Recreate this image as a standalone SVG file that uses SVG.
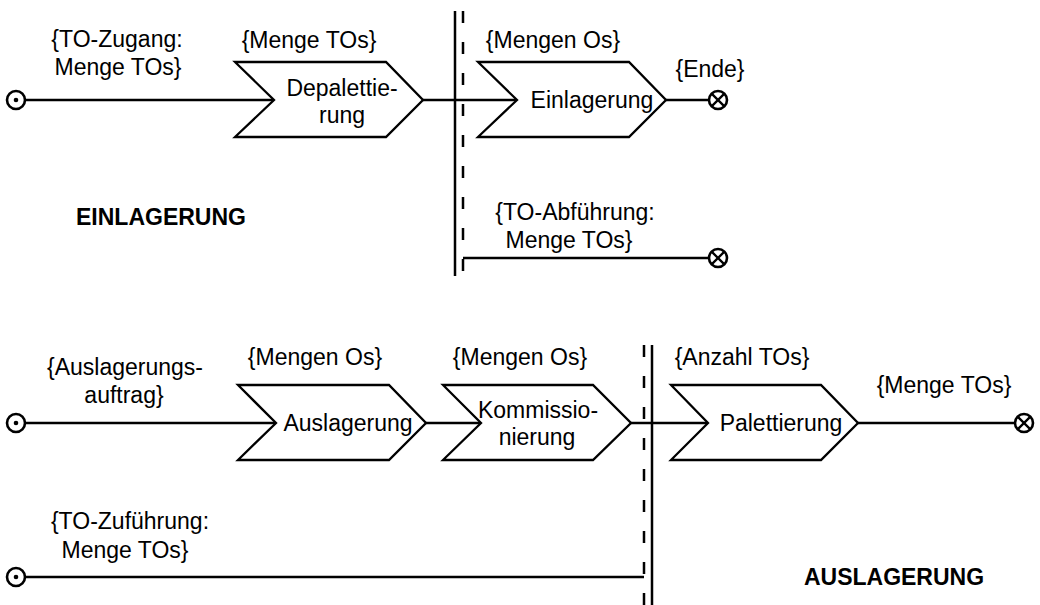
<svg xmlns="http://www.w3.org/2000/svg" width="1040" height="605" viewBox="0 0 1040 605">
  <style>
    .bg { fill: #ffffff; }
    .flow { stroke: #000; stroke-width: 2.3; fill: none; }
    .step { stroke: #000; stroke-width: 2.3; fill: #ffffff; stroke-linejoin: miter; }
    .lane { stroke: #000; stroke-width: 2.5; fill: none; }
    .lane-dash { stroke: #000; stroke-width: 2.5; fill: none; stroke-dasharray: 12 19; }
    .ev { stroke: #000; stroke-width: 2.6; fill: #ffffff; }
    .dot { fill: #000; }
    .txt { font-family: "Liberation Sans", Arial, sans-serif; font-size: 23px; fill: #000; text-anchor: middle; }
    .title { font-family: "Liberation Sans", Arial, sans-serif; font-size: 23px; font-weight: bold; fill: #000; text-anchor: middle; }
  </style>
  <defs>
    <!-- start event: circle with centre dot -->
    <g id="start">
      <circle class="ev" cx="0" cy="0" r="9"/>
      <circle class="dot" cx="0" cy="0" r="2.3"/>
    </g>
    <!-- end event: circle with a cross -->
    <g id="end">
      <circle class="ev" cx="0" cy="0" r="9"/>
      <path class="flow" d="M-6.4,-6.4 L6.4,6.4 M-6.4,6.4 L6.4,-6.4"/>
    </g>
  </defs>
  <rect class="bg" x="0" y="0" width="1040" height="605"/>

  <!-- separators between the areas -->
  <g id="separators">
    <line class="lane" x1="455" y1="11" x2="455" y2="276"/>
    <line class="lane-dash" x1="463" y1="11" x2="463" y2="276"/>
    <line class="lane" x1="652" y1="345" x2="652" y2="605"/>
    <line class="lane-dash" x1="644" y1="345" x2="644" y2="605"/>
  </g>

  <!-- flow lines -->
  <g id="connectors">
    <line class="flow" x1="25" y1="100" x2="274" y2="100"/>
    <line class="flow" x1="423" y1="100" x2="517" y2="100"/>
    <line class="flow" x1="666" y1="100" x2="709" y2="100"/>
    <line class="flow" x1="463" y1="258" x2="709" y2="258"/>
    <line class="flow" x1="25" y1="423" x2="276" y2="423"/>
    <line class="flow" x1="426" y1="423" x2="481" y2="423"/>
    <line class="flow" x1="631" y1="423" x2="708" y2="423"/>
    <line class="flow" x1="858" y1="423" x2="1015" y2="423"/>
    <line class="flow" x1="25" y1="577" x2="644" y2="577"/>
  </g>

  <!-- upper area: storage -->
  <g id="start-zugang">
    <use href="#start" x="16" y="100"/>
    <text class="txt" x="117" y="47">{TO-Zugang:</text>
    <text class="txt" x="118" y="75">Menge TOs}</text>
  </g>
  <g id="depalettierung">
    <polygon class="step" points="235,62 386,62 423,100 386,137 235,137 274,100"/>
    <text class="txt" x="309" y="48">{Menge TOs}</text>
    <text class="txt" x="342" y="96">Depalettie-</text>
    <text class="txt" x="342" y="123">rung</text>
  </g>
  <g id="einlagerung">
    <polygon class="step" points="478,62 629,62 666,100 629,137 478,137 517,100"/>
    <text class="txt" x="553" y="48">{Mengen Os}</text>
    <text class="txt" x="592" y="108">Einlagerung</text>
  </g>
  <g id="end-ende">
    <use href="#end" x="718" y="100"/>
    <text class="txt" x="710" y="77">{Ende}</text>
  </g>
  <g id="end-abfuehrung">
    <use href="#end" x="718" y="258"/>
    <text class="txt" x="575" y="220">{TO-Abführung:</text>
    <text class="txt" x="569" y="248">Menge TOs}</text>
  </g>
  <g id="label-einlagerung">
    <text class="title" x="161" y="225">EINLAGERUNG</text>
  </g>

  <!-- lower area: retrieval -->
  <g id="start-auftrag">
    <use href="#start" x="16" y="423"/>
    <text class="txt" x="125" y="375">{Auslagerungs-</text>
    <text class="txt" x="124" y="403">auftrag}</text>
  </g>
  <g id="auslagerung">
    <polygon class="step" points="238,385 389,385 426,423 389,460 238,460 276,423"/>
    <text class="txt" x="315" y="365">{Mengen Os}</text>
    <text class="txt" x="348" y="431">Auslagerung</text>
  </g>
  <g id="kommissionierung">
    <polygon class="step" points="443,385 593,385 631,423 593,460 443,460 481,423"/>
    <text class="txt" x="520" y="365">{Mengen Os}</text>
    <text class="txt" x="538" y="418">Kommissio-</text>
    <text class="txt" x="537" y="445">nierung</text>
  </g>
  <g id="palettierung">
    <polygon class="step" points="671,385 821,385 858,423 821,460 671,460 708,423"/>
    <text class="txt" x="742" y="365">{Anzahl TOs}</text>
    <text class="txt" x="781" y="431">Palettierung</text>
  </g>
  <g id="end-menge">
    <use href="#end" x="1024" y="423"/>
    <text class="txt" x="944" y="393">{Menge TOs}</text>
  </g>
  <g id="start-zufuehrung">
    <use href="#start" x="16" y="577"/>
    <text class="txt" x="130" y="529">{TO-Zuführung:</text>
    <text class="txt" x="125" y="558">Menge TOs}</text>
  </g>
  <g id="label-auslagerung">
    <text class="title" x="894" y="585">AUSLAGERUNG</text>
  </g>
</svg>
